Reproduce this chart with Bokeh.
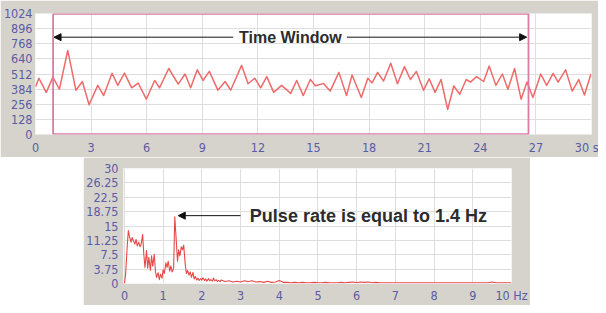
from bokeh.plotting import figure
from bokeh.models import Range1d, FixedTicker, Arrow, NormalHead, Label, Spacer
from bokeh.layouts import column, row
from bokeh.embed import file_html
from bokeh.resources import INLINE

# ---------------- data ----------------
# Time signal (seconds, amplitude) - extrema
sig_t = [0.00, 0.18, 0.58, 0.94, 1.29, 1.74, 2.18, 2.53, 2.89, 3.36, 3.68, 4.13, 4.44, 4.80,
         5.19, 5.54, 5.98, 6.43, 6.69, 7.19, 7.70, 8.07, 8.37, 8.73, 9.04, 9.38, 9.84, 10.23,
         10.53, 11.12, 11.47, 11.83, 12.15, 12.48, 12.85, 13.28, 13.77, 14.09, 14.45, 14.83,
         15.10, 15.30, 15.54, 15.90, 16.37, 16.78, 17.08, 17.58, 17.93, 18.16, 18.46, 18.78,
         19.17, 19.53, 19.91, 20.23, 20.55, 20.94, 21.24, 21.56, 21.88, 22.24, 22.57, 22.89,
         23.24, 23.47, 23.80, 24.18, 24.48, 24.84, 25.19, 25.49, 25.85, 26.20, 26.52, 26.84,
         27.26, 27.58, 27.93, 28.20, 28.60, 28.96, 29.31, 29.62, 29.97]
sig_v = [402, 476, 355, 485, 382, 713, 374, 448, 250, 415, 328, 518, 415, 520,
         394, 435, 297, 457, 394, 559, 425, 512, 394, 548, 457, 534, 374, 448,
         374, 586, 429, 476, 394, 490, 355, 415, 347, 457, 328, 465,
         412, 420, 430, 366, 526, 328, 504, 311, 476, 435, 526, 452,
         603, 429, 575, 465, 534, 374, 471, 355, 465, 209, 410, 339,
         465, 443, 490, 448, 581, 415, 512, 382, 559, 297, 443, 311,
         512, 415, 518, 443, 548, 366, 465, 333, 512]

win_start = [0.95]
win_end = [26.6]

time_ticks = [0, 3, 6, 9, 12, 15, 18, 21, 24, 27, 30]
amp_ticks = [0, 128, 256, 384, 512, 640, 768, 896, 1024]

# Spectrum (Hz, magnitude)
spec_freq = [0.00, 0.03, 0.07, 0.10, 0.13, 0.17, 0.20, 0.23, 0.27, 0.30, 0.33, 0.37, 0.40,
             0.43, 0.47, 0.50, 0.53, 0.57, 0.60, 0.63, 0.67, 0.70, 0.73, 0.77, 0.80, 0.83,
             0.87, 0.90, 0.93, 0.97, 1.00, 1.03, 1.07, 1.10, 1.13, 1.17, 1.20, 1.23, 1.27,
             1.30, 1.33, 1.37, 1.40, 1.43, 1.47, 1.50, 1.53, 1.57, 1.60, 1.63, 1.67, 1.70,
             1.73, 1.77, 1.80, 1.83, 1.87, 1.90, 1.93, 1.97, 2.00, 2.03, 2.07, 2.10, 2.13,
             2.17, 2.20, 2.23, 2.27, 2.30, 2.33, 2.37, 2.40, 2.43, 2.47, 2.50,
             2.6, 2.7, 2.8, 2.9, 3.0, 3.1, 3.2, 3.3, 3.4, 3.5, 3.6, 3.7, 3.8, 3.9, 4.0,
             4.1, 4.2, 4.3, 4.4, 4.5, 4.6, 4.7, 4.8, 4.9, 5.0, 5.1, 5.2, 5.3, 5.4, 5.5,
             5.6, 5.7, 5.8, 5.9, 6.0, 6.1, 6.2, 6.3, 6.4, 6.5, 6.6, 6.7, 6.8, 6.9, 7.0,
             7.1, 7.2, 7.3, 7.4, 7.5, 7.6, 7.7, 7.8, 7.9, 8.0, 8.1, 8.2, 8.3, 8.4, 8.5,
             8.6, 8.7, 8.8, 8.9, 9.0, 9.1, 9.2, 9.3, 9.4, 9.5, 9.6, 9.7, 9.8, 9.9, 10.0]
spec_amp = [0.0, 2.5, 9.5, 13.8, 12.2, 10.8, 12.0, 11.2, 10.3, 11.5, 9.8, 10.8, 9.6,
            10.2, 12.8, 7.5, 4.2, 8.6, 4.0, 6.8, 3.4, 7.2, 4.5, 7.6, 3.2, 1.6,
            2.8, 1.0, 2.4, 1.4, 3.6, 2.6, 5.4, 4.2, 5.8, 3.2, 4.6, 3.0, 4.0,
            17.4, 12.5, 5.8, 8.8, 7.2, 9.6, 8.8, 10.0, 5.0, 2.6, 3.4, 2.2, 3.0,
            1.6, 2.9, 1.2, 1.8, 0.9, 1.4, 0.8, 1.3, 0.9, 1.5, 0.8, 1.2, 0.6,
            1.3, 0.7, 1.0, 0.6, 1.4, 0.7, 1.0, 0.5, 0.8, 0.5, 0.9,
            0.5, 0.7, 0.4, 0.6, 0.4, 0.7, 0.5, 0.7, 0.4, 0.5, 0.3, 0.6, 0.3, 0.4, 0.8,
            0.3, 0.3, 0.2, 0.3, 0.2, 0.3, 0.2, 0.2, 0.3, 0.2, 0.2, 0.3, 0.2, 0.2, 0.2,
            0.3, 0.2, 0.3, 0.4, 0.2, 0.4, 0.3, 0.4, 0.2, 0.3, 0.2, 0.2, 0.2, 0.2, 0.2,
            0.2, 0.2, 0.2, 0.2, 0.2, 0.2, 0.2, 0.2, 0.2, 0.2, 0.2, 0.2, 0.2, 0.2, 0.2,
            0.2, 0.2, 0.2, 0.2, 0.2, 0.2, 0.2, 0.2, 0.2, 0.4, 0.2, 0.2, 0.2, 0.2, 0.2]

freq_ticks = [0, 1, 2, 3, 4, 5, 6, 7, 8, 9, 10]
mag_ticks = [0, 3.75, 7.5, 11.25, 15, 18.75, 22.5, 26.25, 30]

# ---------------- style ----------------
PANEL = "#d6d3cd"
GRID = "#dedede"
TICK_COLOR = "#5a5ca4"
TICK_FONT = "Liberation Sans Narrow, DejaVu Sans Condensed, sans-serif"
NOTE_FONT = "Liberation Sans"
NOTE_COLOR = "#2c2c2c"


def style_axes(p, standoff_x, standoff_y):
    for ax in p.axis:
        ax.axis_line_color = None
        ax.major_tick_line_color = None
        ax.minor_tick_line_color = None
        ax.major_tick_out = 0
        ax.major_tick_in = 0
        ax.major_label_text_font = TICK_FONT
        ax.major_label_text_font_size = "12.5px"
        ax.major_label_text_color = TICK_COLOR
    p.xaxis.major_label_standoff = standoff_x
    p.yaxis.major_label_standoff = standoff_y
    p.xgrid.grid_line_color = GRID
    p.ygrid.grid_line_color = GRID
    p.background_fill_color = "white"
    p.border_fill_color = PANEL
    p.outline_line_color = None


# ---------------- top panel: time signal ----------------
p1 = figure(width=598, height=157, x_range=Range1d(0, 30), y_range=Range1d(-4, 1028),
            output_backend="svg", toolbar_location=None,
            min_border_left=31, min_border_right=7, min_border_top=13, min_border_bottom=20)
style_axes(p1, 5, 3)
p1.xaxis.ticker = FixedTicker(ticks=time_ticks)
p1.yaxis.ticker = FixedTicker(ticks=amp_ticks)
p1.xaxis.major_label_overrides = {30: "30 s"}

p1.line(sig_t, sig_v, line_color="#ef6a6a", line_width=1.5, line_join="round")
p1.quad(left=win_start, right=win_end, bottom=[0], top=[1024], fill_color=None,
        line_color="#dc7aa2", line_width=1.8)

p1.add_layout(Arrow(end=NormalHead(size=7, fill_color="#111111", line_color="#111111"),
                    x_start=10.67, y_start=826, x_end=1.0, y_end=826,
                    line_color="#111111", line_width=1))
p1.add_layout(Arrow(end=NormalHead(size=7, fill_color="#111111", line_color="#111111"),
                    x_start=16.8, y_start=826, x_end=26.5, y_end=826,
                    line_color="#111111", line_width=1))
p1.add_layout(Label(x=13.75, y=826, text="Time Window", text_align="center",
                    text_baseline="middle", text_font=NOTE_FONT, text_font_style="bold",
                    text_font_size="16px", text_color=NOTE_COLOR))

# ---------------- bottom panel: spectrum ----------------
p2 = figure(width=447, height=148, x_range=Range1d(-0.025, 10.0), y_range=Range1d(0, 30),
            output_backend="svg", toolbar_location=None,
            min_border_left=34, min_border_right=19, min_border_top=11, min_border_bottom=19)
style_axes(p2, 4, 5)
p2.xaxis.ticker = FixedTicker(ticks=freq_ticks)
p2.yaxis.ticker = FixedTicker(ticks=mag_ticks)
p2.xaxis.major_label_overrides = {10: "10 Hz"}

p2.line(spec_freq, spec_amp, line_color="#e64848", line_width=1.1, line_join="round")

p2.add_layout(Arrow(end=NormalHead(size=7, fill_color="#111111", line_color="#111111"),
                    x_start=3.0, y_start=17.7, x_end=1.39, y_end=17.7,
                    line_color="#111111", line_width=1))
p2.add_layout(Label(x=3.24, y=17.7, text="Pulse rate is equal to 1.4 Hz", text_align="left",
                    text_baseline="middle", text_font=NOTE_FONT, text_font_style="bold",
                    text_font_size="18px", text_color=NOTE_COLOR))

layout = column(p1, row(Spacer(width=83, height=148), p2))

open("out.html", "w").write(file_html(layout, INLINE))
